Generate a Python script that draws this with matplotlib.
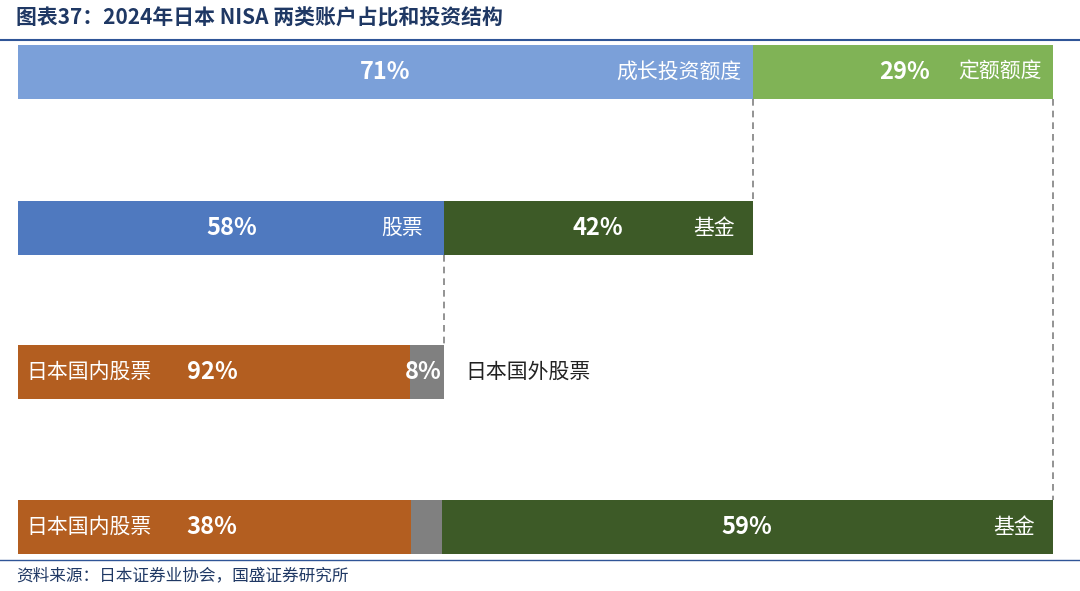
import matplotlib.pyplot as plt

plt.rcParams['font.family'] = 'Noto Sans CJK SC'

# --- dati ---
account_labels = ['成长投资额度', '定额额度']
account_share = [71, 29]
growth_labels = ['股票', '基金']
growth_share = [58, 42]            # quota del 71%
stock_labels = ['日本国内股票', '日本国外股票']
stock_share = [92, 8]              # quota della parte azioni
fixed_labels = ['日本国内股票', '其他', '基金']
fixed_share = [38, 3, 59]

# --- setup (unità in pixel, 100% = 1035 px) ---
fig = plt.figure(figsize=(10.8, 5.91), dpi=100)
ax = fig.add_axes([0, 0, 1, 1])
ax.set_xlim(0, 1080)
ax.set_ylim(591, 0)
ax.axis('off')

x0 = 18
full = 1035
h = 54


def draw_row(y, start, total, shares, colors):
    lefts = []
    x = start
    for s, c in zip(shares, colors):
        w = total * s / 100
        ax.barh(y, w, left=x, height=h, color=c, align='edge')
        lefts.append((x, w))
        x += w
    return lefts


r1 = draw_row(45, x0, full, account_share, ['#7ba0d9', '#80b356'])
growth_w = r1[0][1]
r2 = draw_row(201, x0, growth_w, growth_share, ['#4f79bf', '#3d5a27'])
stock_w = r2[0][1]
r3 = draw_row(345, x0, stock_w, stock_share, ['#b35e20', '#808080'])
r4 = draw_row(500, x0, full, fixed_share, ['#b35e20', '#808080', '#3d5a27'])

wt = dict(color='white', fontsize=17, fontweight='bold', va='center')
lt = dict(color='white', fontsize=15, va='center')
dk = dict(color='#222222', fontsize=15, va='center')

# riga 1
ax.text(385, 72, f'{account_share[0]}%', ha='center', **wt)
ax.text(742, 72, account_labels[0], ha='right', **lt)
ax.text(905, 72, f'{account_share[1]}%', ha='center', **wt)
ax.text(1042, 72, account_labels[1], ha='right', **lt)
# riga 2
ax.text(232, 228, f'{growth_share[0]}%', ha='center', **wt)
ax.text(423, 228, growth_labels[0], ha='right', **lt)
ax.text(598, 228, f'{growth_share[1]}%', ha='center', **wt)
ax.text(735, 228, growth_labels[1], ha='right', **lt)
# riga 3
ax.text(26, 372, stock_labels[0], ha='left', **lt)
ax.text(212, 372, f'{stock_share[0]}%', ha='center', **wt)
ax.text(423, 372, f'{stock_share[1]}%', ha='center', **wt)
ax.text(465, 372, stock_labels[1], ha='left', **dk)
# riga 4
ax.text(26, 527, fixed_labels[0], ha='left', **lt)
ax.text(212, 527, f'{fixed_share[0]}%', ha='center', **wt)
ax.text(747, 527, f'{fixed_share[2]}%', ha='center', **wt)
ax.text(1035, 527, fixed_labels[2], ha='right', **lt)

# linee tratteggiate
dash = dict(color='#808080', lw=1.2, ls=(0, (4, 3)))
gx = x0 + growth_w
sx = x0 + stock_w
ax.plot([gx, gx], [99, 201], **dash)
ax.plot([sx, sx], [255, 345], **dash)
ax.plot([x0 + full, x0 + full], [99, 500], **dash)

# titolo e fonte
ax.text(16, 18, '图表37：2024年日本 NISA 两类账户占比和投资结构', fontsize=15,
        fontweight='bold', fontstyle='italic', color='#1f3864', va='center')
ax.plot([0, 1080], [40, 40], color='#2f5597', lw=1.5)
ax.plot([0, 1080], [560, 560], color='#2f5597', lw=1.0)
ax.text(16, 576, '资料来源：日本证券业协会，国盛证券研究所', fontsize=12,
        fontstyle='italic', color='#1f3864', va='center')

fig.savefig('out.png', dpi=100)
